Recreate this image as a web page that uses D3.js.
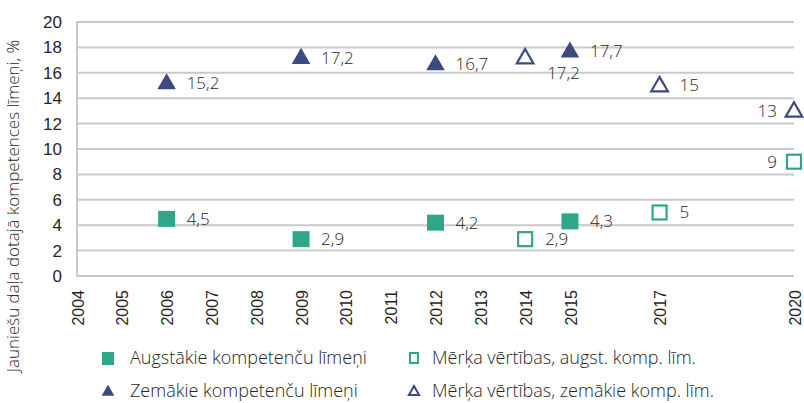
<!DOCTYPE html>
<html>
    <head>
        <meta charset="utf-8">
        <title>kompetences</title>
        <style>
            body { margin: 0; background: white; }
            svg { width: 804px; height: 403px; font-family: 'Open Sans', sans-serif; font-weight: 300; }
            .grid line { stroke: #c9c9c9; stroke-width: 2; }
            .tick text, .lbl, .legend text { fill: #262626; }
        </style>
        <script src="https://d3js.org/d3.v7.min.js"></script>
    </head>
    <body>
        <svg id='main'></svg>
    <script>
        // data
        let years = [2004, 2005, 2006, 2007, 2008, 2009, 2010, 2011, 2012, 2013, 2014, 2015, 2017, 2020];
        let yTicks = [0, 2, 4, 6, 8, 10, 12, 14, 16, 18, 20];

        let highYears = [2006, 2009, 2012, 2015];
        let highValues = [4.5, 2.9, 4.2, 4.3];
        let lowYears = [2006, 2009, 2012, 2015];
        let lowValues = [15.2, 17.2, 16.7, 17.7];
        let targetYears = [2014, 2017, 2020];
        let targetHigh = [2.9, 5, 9];
        let targetLow = [17.2, 15, 13];

        let teal = '#2ea68a';
        let navy = '#3b4a7f';

        let svg = d3.select('svg#main');

        let x = d3.scaleLinear().domain([2004, 2020]).range([77, 794]);
        let y = d3.scaleLinear().domain([0, 20]).range([276, 22]);

        // grid
        svg.append('g').attr('class', 'grid')
            .selectAll('line').data(yTicks).enter()
            .append('line')
                .attr('x1', 76).attr('x2', 794)
                .attr('y1', d => y(d)).attr('y2', d => y(d));
        svg.append('line')
            .attr('x1', 77).attr('x2', 77)
            .attr('y1', y(20) - 1).attr('y2', y(0) + 1)
            .attr('stroke', '#c9c9c9').attr('stroke-width', 2);

        // y axis
        let yAxis = svg.append('g')
            .attr('transform', 'translate(62,0)')
            .call(d3.axisLeft(y).tickValues(yTicks).tickSize(0).tickPadding(0));
        yAxis.select('.domain').remove();
        yAxis.selectAll('text').style('font-size', '17px').style('font-family', null);

        // x axis
        let xAxis = svg.append('g')
            .attr('transform', 'translate(0,' + 290 + ')')
            .call(d3.axisBottom(x).tickValues(years).tickFormat(d3.format('d')).tickSize(0).tickPadding(0));
        xAxis.select('.domain').remove();
        xAxis.selectAll('text')
            .style('font-size', '16px').style('font-family', null)
            .attr('text-anchor', 'end')
            .attr('dy', '0.35em')
            .attr('transform', 'rotate(-90)')
            .attr('x', 0).attr('y', 0);
        xAxis.selectAll('.tick')
            .attr('transform', d => 'translate(' + (x(d) + 1) + ',0)');

        // y title
        svg.append('text')
            .attr('transform', 'translate(19,' + 206 + ') rotate(-90)')
            .attr('text-anchor', 'middle')
            .style('font-size', '17px')
            .attr('fill', '#262626')
            .text('Jauniešu daļa dotajā kompetences līmeņi, %');

        let tri = d3.symbol().type(d3.symbolTriangle).size(150);

        function zip(xs, vs) { return xs.map((d, i) => ({year: d, value: vs[i]})); }

        let marks = svg.append('g');

        // filled squares
        marks.selectAll('.hs').data(zip(highYears, highValues)).enter()
            .append('rect')
                .attr('x', d => x(d.year) - 8.5).attr('y', d => y(d.value) - 8)
                .attr('width', 17).attr('height', 16)
                .attr('fill', teal);
        // filled triangles
        marks.selectAll('.lt').data(zip(lowYears, lowValues)).enter()
            .append('path')
                .attr('d', tri)
                .attr('transform', d => 'translate(' + x(d.year) + ',' + (y(d.value) + 1) + ')')
                .attr('fill', navy);
        // open squares
        marks.selectAll('.th').data(zip(targetYears, targetHigh)).enter()
            .append('rect')
                .attr('x', d => x(d.year) - 7).attr('y', d => y(d.value) - 7)
                .attr('width', 14).attr('height', 14)
                .attr('fill', 'white').attr('stroke', teal).attr('stroke-width', 2.2);
        // open triangles
        marks.selectAll('.tl').data(zip(targetYears, targetLow)).enter()
            .append('path')
                .attr('d', d3.symbol().type(d3.symbolTriangle).size(120))
                .attr('transform', d => 'translate(' + x(d.year) + ',' + (y(d.value) + 1) + ')')
                .attr('fill', 'white').attr('stroke', navy).attr('stroke-width', 2.2);

        // value labels
        let fmt = v => String(v).replace('.', ',');
        let labels = []
            .concat(zip(highYears, highValues))
            .concat(zip(lowYears, lowValues))
            .concat(zip(targetYears, targetHigh))
            .concat(zip(targetYears, targetLow));
        svg.append('g').selectAll('text').data(labels).enter()
            .append('text')
                .attr('class', 'lbl')
                .style('font-size', '17px')
                .attr('x', d => {
                    if (d.year === 2020) return x(d.year) - 17;
                    if (d.year === 2014 && d.value > 10) return x(d.year) + 22;
                    return x(d.year) + 20;
                })
                .attr('y', d => (d.year === 2014 && d.value > 10) ? y(d.value) + 15 : y(d.value))
                .attr('dy', '0.35em')
                .attr('text-anchor', d => d.year === 2020 ? 'end' : 'start')
                .text(d => fmt(d.value));

        // legend
        let legend = svg.append('g').attr('class', 'legend');
        let items = [
            {name: 'Augstākie kompetenču līmeņi', kind: 'sq', fill: true, col: 0, row: 0},
            {name: 'Mērķa vērtības, augst. komp. līm.', kind: 'sq', fill: false, col: 1, row: 0},
            {name: 'Zemākie kompetenču līmeņi', kind: 'tri', fill: true, col: 0, row: 1},
            {name: 'Mērķa vērtības, zemākie komp. līm.', kind: 'tri', fill: false, col: 1, row: 1}
        ];
        let colX = [108, 414], rowY = [358, 391];
        items.forEach(it => {
            let cx = colX[it.col], cy = rowY[it.row];
            let c = it.kind === 'sq' ? teal : navy;
            if (it.kind === 'sq') {
                if (it.fill)
                    legend.append('rect').attr('x', cx - 6).attr('y', cy - 6).attr('width', 12).attr('height', 13).attr('fill', c);
                else
                    legend.append('rect').attr('x', cx - 4).attr('y', cy - 5).attr('width', 8).attr('height', 10)
                        .attr('fill', 'white').attr('stroke', c).attr('stroke-width', 2);
            } else {
                legend.append('path')
                    .attr('d', d3.symbol().type(d3.symbolTriangle).size(it.fill ? 70 : 45))
                    .attr('transform', 'translate(' + cx + ',' + (cy + 1) + ')')
                    .attr('fill', it.fill ? c : 'white')
                    .attr('stroke', it.fill ? 'none' : c).attr('stroke-width', 2);
            }
            legend.append('text')
                .attr('x', cx + 22 - (it.col ? 4 : 0)).attr('y', cy).attr('dy', '0.35em')
                .style('font-size', '18px')
                .text(it.name);
        });
    </script>
    </body>
</html>
